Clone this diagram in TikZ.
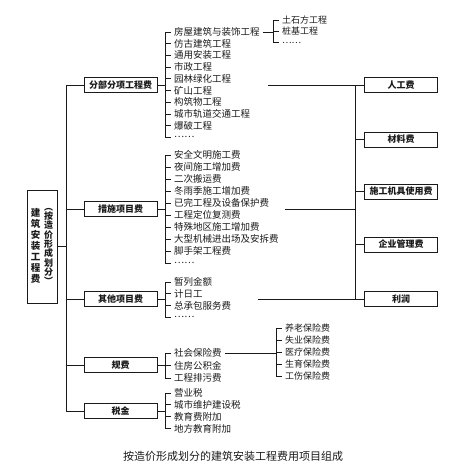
\documentclass[tikz,border=0pt]{standalone}
\usepackage{fontspec}
\newfontfamily\cjk{Noto Sans CJK SC}
\usetikzlibrary{positioning,calc}
\definecolor{ink}{HTML}{1A1A1A}
\tikzset{
  catbox/.style={draw=ink,line width=0.9pt,minimum width=73pt,minimum height=15pt,
                 inner sep=0pt,text=ink,font=\cjk\fontsize{9}{9}\selectfont\bfseries},
  mainbox/.style={draw=ink,line width=0.9pt,minimum width=30pt,minimum height=113pt,
                  inner sep=0pt},
  vtext/.style={align=center,inner sep=0pt,text=ink,font=\cjk\fontsize{9.5}{11}\selectfont\bfseries},
  vtextsm/.style={align=center,inner sep=0pt,text=ink,font=\cjk\fontsize{9}{9.3}\selectfont\bfseries},
  item/.style={anchor=west,inner xsep=3pt,inner ysep=1pt,text=ink,
               font=\cjk\fontsize{9.5}{10}\selectfont},
  smallitem/.style={item,font=\cjk\fontsize{9}{10}\selectfont},
  link/.style={draw=ink,line width=0.7pt}
}

\begin{document}
\begin{tikzpicture}[x=1pt,y=-1pt]
    \path[use as bounding box] (0,0) rectangle (455,468);

    % total cost box, vertical text
    \node[mainbox] (total) at (42,246.5) {};
    \node[vtext] (totall) at (35.5,245.5) {建\\筑\\安\\装\\工\\程\\费};
    \node[vtextsm] (totalr) at (48.5,246.5) {︵\\按\\造\\价\\形\\成\\划\\分\\︶};

    % cost categories
    \node[catbox] (cat1) at (120.5,85) {分部分项工程费};
    \node[catbox] (cat2) at (120.5,209) {措施项目费};
    \node[catbox] (cat3) at (120.5,299) {其他项目费};
    \node[catbox] (cat4) at (120.5,365) {规费};
    \node[catbox] (cat5) at (120.5,411) {税金};

    \coordinate (trunk) at (66,0);
    \draw[link] (total.east) -- (trunk |- total);
    \draw[link] (trunk |- cat1) -- (trunk |- cat5);
    \foreach \i in {1,...,5}
      \draw[link] (trunk |- cat\i) -- (cat\i.west);

    % cost elements on the right
    \node[catbox] (cost1) at (401,85) {人工费};
    \node[catbox] (cost2) at (401,139.5) {材料费};
    \node[catbox] (cost3) at (401,191.5) {施工机具使用费};
    \node[catbox] (cost4) at (401,244.5) {企业管理费};
    \node[catbox] (cost5) at (401,299) {利润};

    \coordinate (rtrunk) at (355,0);
    \draw[link] (rtrunk |- cost1) -- (rtrunk |- cost5);
    \foreach \i in {1,...,4}
      \draw[link] (rtrunk |- cost\i) -- (cost\i.west);

    \coordinate (free1) at (268,85);
    \coordinate (free2) at (285,209);
    \coordinate (free3) at (258,299);
    \draw[link] (free1) -- (rtrunk |- cat1);
    \draw[link] (free2) -- (rtrunk |- cat2);
    \draw[link] (free3) -- (cost5.west);

    % sub-items of 分部分项工程费
    \coordinate (fabr) at (165,0);
    \foreach \t [count=\i] in {房屋建筑与装饰工程,仿古建筑工程,通用安装工程,市政工程,
        园林绿化工程,矿山工程,构筑物工程,城市轨道交通工程,爆破工程,……}
      \node[item] (fa\i) at (171,{32+11.7*(\i-1)}) {\t};
    \draw[link] (cat1.east) -- (fabr |- cat1);
    \draw[link] (fabr |- fa1) -- (fabr |- fa10);
    \foreach \i in {1,...,10}
      \draw[link] (fabr |- fa\i) -- (fa\i.west);

    \coordinate (fxbr) at (273,0);
    \foreach \t [count=\i] in {土石方工程,桩基工程,……}
      \node[smallitem] (fx\i) at (279,{20+11.3*(\i-1)}) {\t};
    \draw[link] (fa1.east) -- (fxbr |- fa1);
    \draw[link] (fxbr |- fx1) -- (fxbr |- fx3);
    \foreach \i in {1,...,3}
      \draw[link] (fxbr |- fx\i) -- (fx\i.west);

    % sub-items of 措施项目费
    \coordinate (csbr) at (165,0);
    \foreach \t [count=\i] in {安全文明施工费,夜间施工增加费,二次搬运费,冬雨季施工增加费,
        已完工程及设备保护费,工程定位复测费,特殊地区施工增加费,大型机械进出场及安拆费,
        脚手架工程费,……}
      \node[item] (cs\i) at (171,{155+12*(\i-1)}) {\t};
    \draw[link] (cat2.east) -- (csbr |- cat2);
    \draw[link] (csbr |- cs1) -- (csbr |- cs10);
    \foreach \i in {1,...,10}
      \draw[link] (csbr |- cs\i) -- (cs\i.west);

    % sub-items of 其他项目费
    \coordinate (qtbr) at (165,0);
    \foreach \t [count=\i] in {暂列金额,计日工,总承包服务费,……}
      \node[item] (qt\i) at (171,{282+11.7*(\i-1)}) {\t};
    \draw[link] (cat3.east) -- (qtbr |- cat3);
    \draw[link] (qtbr |- qt1) -- (qtbr |- qt4);
    \foreach \i in {1,...,4}
      \draw[link] (qtbr |- qt\i) -- (qt\i.west);

    % sub-items of 规费
    \coordinate (gfbr) at (165,0);
    \foreach \t [count=\i] in {社会保险费,住房公积金,工程排污费}
      \node[item] (gf\i) at (171,{353+12.5*(\i-1)}) {\t};
    \draw[link] (cat4.east) -- (gfbr |- cat4);
    \draw[link] (gfbr |- gf1) -- (gfbr |- gf3);
    \foreach \i in {1,...,3}
      \draw[link] (gfbr |- gf\i) -- (gf\i.west);

    \coordinate (sbbr) at (276,0);
    \foreach \t [count=\i] in {养老保险费,失业保险费,医疗保险费,生育保险费,工伤保险费}
      \node[smallitem] (sb\i) at (282,{328+12*(\i-1)}) {\t};
    \draw[link] (gf1.east) -- (sbbr |- gf1);
    \draw[link] (sbbr |- sb1) -- (sbbr |- sb5);
    \foreach \i in {1,...,5}
      \draw[link] (sbbr |- sb\i) -- (sb\i.west);

    % sub-items of 税金
    \coordinate (sjbr) at (165,0);
    \foreach \t [count=\i] in {营业税,城市维护建设税,教育费附加,地方教育附加}
      \node[item] (sj\i) at (171,{393+11.8*(\i-1)}) {\t};
    \draw[link] (cat5.east) -- (sjbr |- cat5);
    \draw[link] (sjbr |- sj1) -- (sjbr |- sj4);
    \foreach \i in {1,...,4}
      \draw[link] (sjbr |- sj\i) -- (sj\i.west);

    \node[text=ink,font=\cjk\fontsize{11}{11}\selectfont] (caption) at (233,456)
      {按造价形成划分的建筑安装工程费用项目组成};
\end{tikzpicture}
\end{document}
